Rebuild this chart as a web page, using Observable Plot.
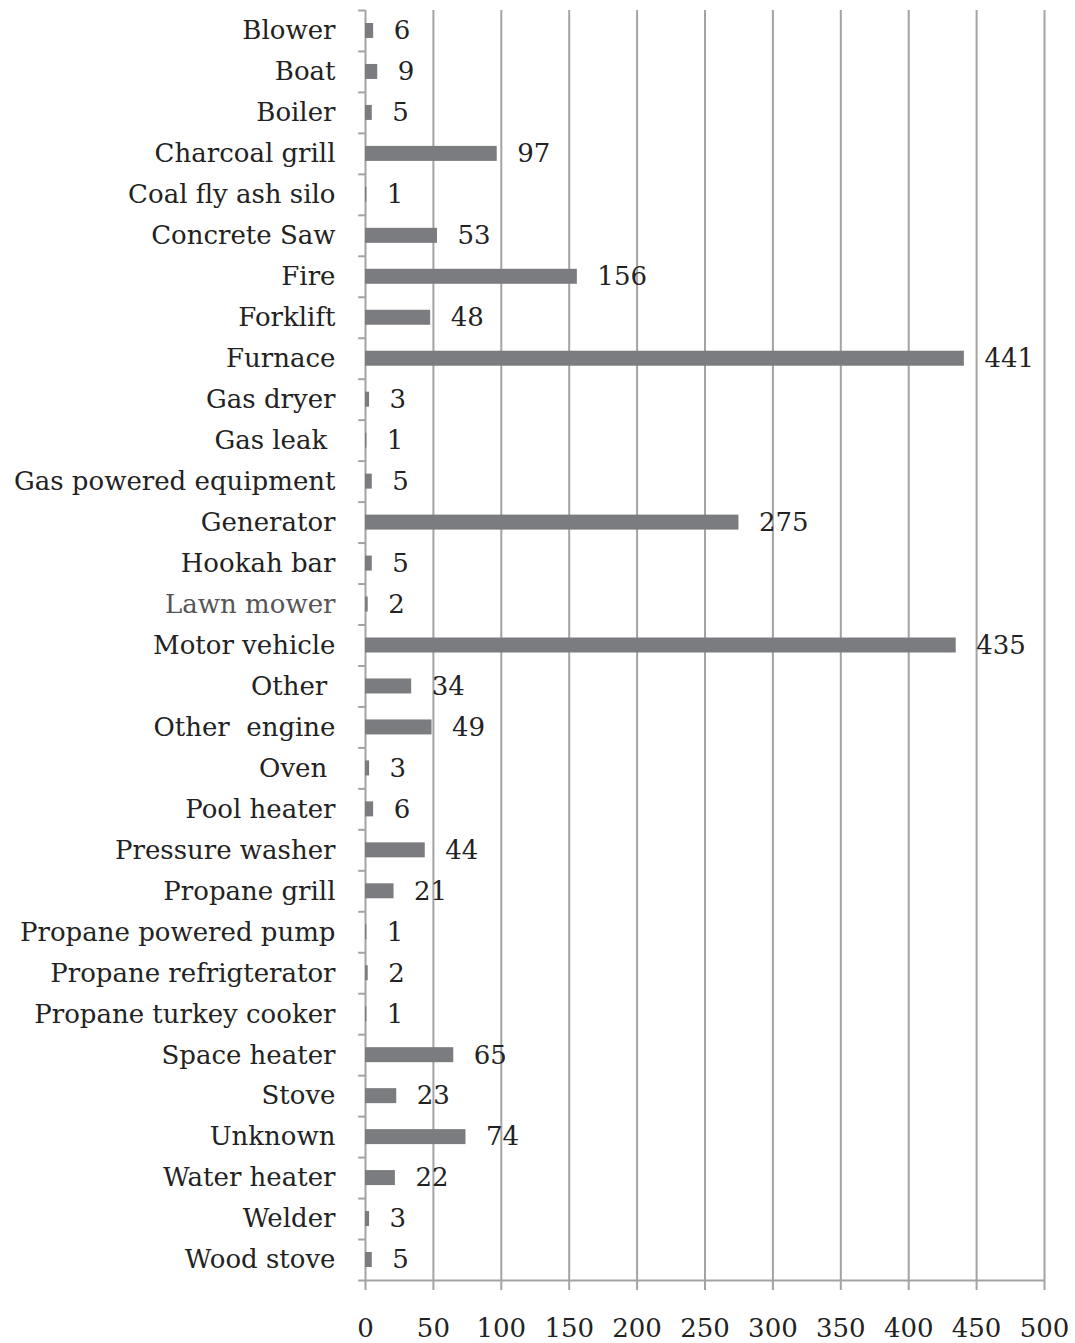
<!DOCTYPE html>
<html>
<head>
<meta charset="utf-8">
<script src="https://cdn.jsdelivr.net/npm/d3@7"></script>
<script src="https://cdn.jsdelivr.net/npm/@observablehq/plot@0.6"></script>
<style>
  html, body { margin: 0; padding: 0; background: #fff; }
  #chart svg { display: block; }
  #chart text { white-space: pre; }
</style>
</head>
<body>
<div id="chart"></div>
<script>
// Carbon monoxide exposure sources and their case counts
const sources = [
  "Blower", "Boat", "Boiler", "Charcoal grill", "Coal fly ash silo",
  "Concrete Saw", "Fire", "Forklift", "Furnace", "Gas dryer",
  "Gas leak ", "Gas powered equipment", "Generator", "Hookah bar", "Lawn mower",
  "Motor vehicle", "Other ", "Other  engine", "Oven ", "Pool heater",
  "Pressure washer", "Propane grill", "Propane powered pump", "Propane refrigterator", "Propane turkey cooker",
  "Space heater", "Stove", "Unknown", "Water heater", "Welder", "Wood stove"
];
const counts = [
  6, 9, 5, 97, 1,
  53, 156, 48, 441, 3,
  1, 5, 275, 5, 2,
  435, 34, 49, 3, 6,
  44, 21, 1, 2, 1,
  65, 23, 74, 22, 3, 5
];
const xTicks = [0, 50, 100, 150, 200, 250, 300, 350, 400, 450, 500];

const data = sources.map((s, i) => ({source: s, count: counts[i]}));

const font = "'DejaVu Serif', 'Liberation Serif', serif";
const gridColor = "#a3a3a3";
const barColor = "#7b7c7f";
const half = 20.5; // half of one category step, in pixels

const chart = Plot.plot({
  width: 1075,
  height: 1343,
  marginLeft: 365,
  marginRight: 31,
  marginTop: 10,
  marginBottom: 63,
  style: {fontFamily: font, fontSize: "26px", color: "#222", background: "#fff"},
  x: {domain: [0, 500], ticks: xTicks},
  y: {domain: sources, paddingInner: 0.634, paddingOuter: 0.317, align: 0.5, round: false},
  marks: [
    // vertical grid lines and bottom axis with ticks below
    Plot.gridX(xTicks, {stroke: gridColor, strokeOpacity: 1, strokeWidth: 2}),
    Plot.axisX(xTicks, {
      anchor: "bottom", tickSize: 10, tickPadding: 28, stroke: gridColor, strokeWidth: 2,
      tickFormat: d => String(d), fill: "#222", fontSize: 26, label: null
    }),
    // bottom axis line
    Plot.ruleY([sources[sources.length - 1]], {dy: half, stroke: gridColor, strokeWidth: 2}),
    // short category ticks on the left axis
    Plot.ruleY(sources, {x1: -5, x2: 0, dy: -half, stroke: gridColor, strokeWidth: 2}),
    Plot.ruleY([sources[sources.length - 1]], {x1: -5, x2: 0, dy: half, stroke: gridColor, strokeWidth: 2}),
    Plot.barX(data, {y: "source", x: "count", fill: barColor}),
    Plot.text(data, {
      y: "source", x: "count", text: d => String(d.count),
      textAnchor: "start", dx: 20, fill: "#222", fontSize: 26
    }),
    Plot.axisY({
      tickSize: 0, tickPadding: 30, label: null, fontSize: 26,
      fill: d => d === "Lawn mower" ? "#555" : "#222"
    })
  ]
});

document.getElementById("chart").appendChild(chart);
</script>
</body>
</html>
